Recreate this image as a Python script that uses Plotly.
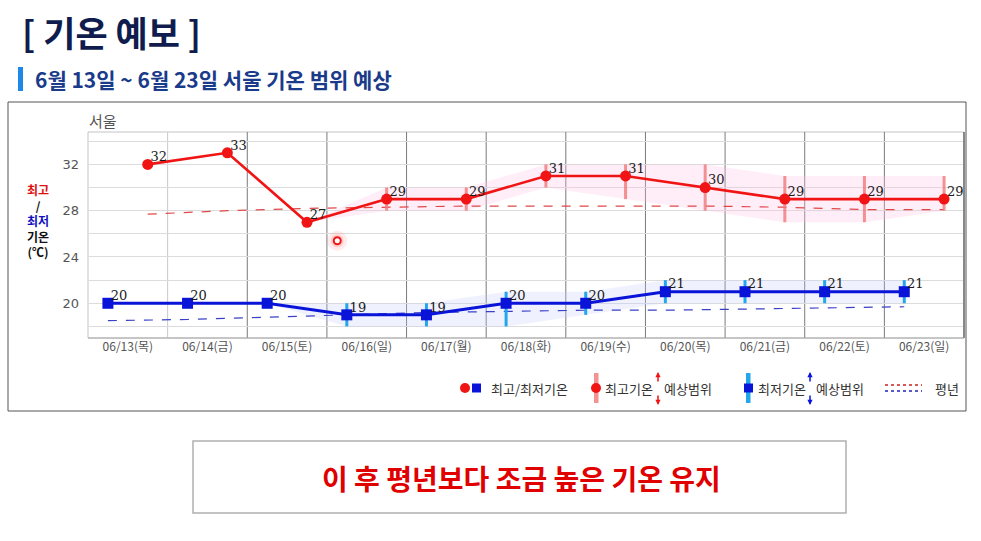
import plotly.graph_objects as go

# ---------------- data ----------------
dates = ["06/13(목)", "06/14(금)", "06/15(토)", "06/16(일)", "06/17(월)", "06/18(화)",
         "06/19(수)", "06/20(목)", "06/21(금)", "06/22(토)", "06/23(일)"]
max_temp = [32, 33, 27, 29, 29, 31, 31, 30, 29, 29, 29]
min_temp = [20, 20, 20, 19, 19, 20, 20, 21, 21, 21, 21]
# forecast ranges (None = no range shown); 06/15 is where the band starts
max_lo = [None, None, 27, 28, 28, 30, 29, 28, 27, 27, 28]
max_hi = [None, None, 27, 30, 30, 32, 32, 32, 31, 31, 31]
min_lo = [None, None, 20, 18, 18, 18, 19, 20, 20, 20, 20]
min_hi = [None, None, 20, 20, 20, 21, 21, 22, 22, 22, 22]
norm_max = [27.7, 28.0, 28.2, 28.3, 28.4, 28.4, 28.4, 28.4, 28.3, 28.1, 28.1]
norm_min = [18.5, 18.6, 18.8, 19.0, 19.2, 19.3, 19.4, 19.4, 19.5, 19.6, 19.7]
y_tick_vals = [20, 24, 28, 32]
hover_x = [3.13]   # highlighted cursor spot in the screenshot
hover_y = [25.4]

# ---------------- geometry helpers ----------------
W, H = 981, 541
L, R, T, B = 88, 964, 132, 338


def px(x):
    return (x - L) / (R - L)


def py(y):
    return (B - y) / (B - T)


n = len(dates)
x_hi = [i + 0.75 for i in range(n)]   # afternoon (max)
x_lo = [i + 0.25 for i in range(n)]   # morning (min)
x_mid = [i + 0.5 for i in range(n)]
LABEL_DX = 0.035

RED = "#f01414"
BLUE = "#0a14d8"
KFONT = "Noto Sans CJK KR"

fig = go.Figure()

# ranges bands
idx_max = [i for i in range(n) if max_lo[i] is not None]
idx_min = [i for i in range(n) if min_lo[i] is not None]

fig.add_trace(go.Scatter(x=[x_hi[i] for i in idx_max], y=[max_hi[i] for i in idx_max],
                         mode="lines", line=dict(width=0), hoverinfo="skip", showlegend=False))
fig.add_trace(go.Scatter(x=[x_hi[i] for i in idx_max], y=[max_lo[i] for i in idx_max],
                         mode="lines", line=dict(width=0), fill="tonexty",
                         fillcolor="rgba(255,190,230,0.28)", hoverinfo="skip", showlegend=False))
fig.add_trace(go.Scatter(x=[x_lo[i] for i in idx_min], y=[min_hi[i] for i in idx_min],
                         mode="lines", line=dict(width=0), hoverinfo="skip", showlegend=False))
fig.add_trace(go.Scatter(x=[x_lo[i] for i in idx_min], y=[min_lo[i] for i in idx_min],
                         mode="lines", line=dict(width=0), fill="tonexty",
                         fillcolor="rgba(195,200,255,0.26)", hoverinfo="skip", showlegend=False))

# normals
fig.add_trace(go.Scatter(x=x_hi, y=norm_max, mode="lines",
                         line=dict(color="#e04848", width=1.2, dash="dash"), showlegend=False))
fig.add_trace(go.Scatter(x=x_lo, y=norm_min, mode="lines",
                         line=dict(color="#3a40c8", width=1.2, dash="dash"), showlegend=False))

# range bars
rb = [i for i in idx_max if max_hi[i] != max_lo[i]]
fig.add_trace(go.Scatter(
    x=[x_hi[i] for i in rb], y=[max_temp[i] for i in rb], mode="markers",
    marker=dict(size=1, color="rgba(0,0,0,0)"),
    error_y=dict(type="data", symmetric=False,
                 array=[max_hi[i] - max_temp[i] for i in rb],
                 arrayminus=[max_temp[i] - max_lo[i] for i in rb],
                 color="rgba(240,120,120,0.8)", thickness=3, width=0),
    showlegend=False))
bb = [i for i in idx_min if min_hi[i] != min_lo[i]]
fig.add_trace(go.Scatter(
    x=[x_lo[i] for i in bb], y=[min_temp[i] for i in bb], mode="markers",
    marker=dict(size=1, color="rgba(0,0,0,0)"),
    error_y=dict(type="data", symmetric=False,
                 array=[min_hi[i] - min_temp[i] for i in bb],
                 arrayminus=[min_temp[i] - min_lo[i] for i in bb],
                 color="#22a6ec", thickness=3, width=0),
    showlegend=False))

# main series
fig.add_trace(go.Scatter(
    x=x_hi, y=max_temp, mode="lines+markers",
    line=dict(color=RED, width=2.6), marker=dict(symbol="circle", size=11, color=RED),
    showlegend=False))
fig.add_trace(go.Scatter(
    x=x_lo, y=min_temp, mode="lines+markers",
    line=dict(color=BLUE, width=3), marker=dict(symbol="square", size=11, color=BLUE),
    showlegend=False))

# value labels
LFONT = dict(family="DejaVu Serif", size=13, color="#1a1a1a")
fig.add_trace(go.Scatter(x=[v + LABEL_DX for v in x_hi], y=max_temp, mode="text",
                         text=[str(v) for v in max_temp], textposition="top right",
                         textfont=LFONT, cliponaxis=False, showlegend=False))
fig.add_trace(go.Scatter(x=[v + LABEL_DX for v in x_lo], y=min_temp, mode="text",
                         text=[str(v) for v in min_temp], textposition="top right",
                         textfont=LFONT, cliponaxis=False, showlegend=False))

# highlighted cursor spot
fig.add_trace(go.Scatter(x=hover_x, y=hover_y, mode="markers",
                         marker=dict(size=20, color="rgba(255,60,60,0.10)"), showlegend=False))
fig.add_trace(go.Scatter(x=hover_x, y=hover_y, mode="markers",
                         marker=dict(size=13, color="rgba(255,60,60,0.16)"), showlegend=False))
fig.add_trace(go.Scatter(x=hover_x, y=hover_y, mode="markers",
                         marker=dict(size=7, color="rgba(255,255,255,0.9)",
                                     line=dict(color=RED, width=2)), showlegend=False))

shapes = []
# outer chart box
shapes.append(dict(type="rect", xref="paper", yref="paper", x0=px(8), x1=px(966),
                   y0=py(411), y1=py(102), line=dict(color="#555", width=1), layer="below"))
# plot frame
shapes.append(dict(type="rect", xref="paper", yref="paper", x0=0, x1=1, y0=0, y1=1,
                   line=dict(color="#c4c4c4", width=1), layer="below"))
shapes.append(dict(type="line", xref="paper", yref="paper", x0=1, x1=1, y0=0, y1=1,
                   line=dict(color="#888", width=2)))
shapes.append(dict(type="line", xref="paper", yref="paper", x0=0, x1=1, y0=0, y1=0,
                   line=dict(color="#aaa", width=1)))
# day separators
for d in range(1, n):
    shapes.append(dict(type="line", xref="x", yref="paper", x0=d, x1=d, y0=0, y1=1,
                       line=dict(color="#c8c8c8" if d == 1 else "#7a7a7a", width=1),
                       layer="below"))
# subtitle accent bar
shapes.append(dict(type="rect", xref="paper", yref="paper", x0=px(18), x1=px(23),
                   y0=py(91), y1=py(67), line=dict(width=0), fillcolor="#1e88e8"))
# message box
shapes.append(dict(type="rect", xref="paper", yref="paper", x0=px(193), x1=px(846),
                   y0=py(513), y1=py(441), line=dict(color="#b0b0b0", width=1.5)))

# ---- legend (custom) ----
LY = 388
shapes.append(dict(type="circle", xref="paper", yref="paper", x0=px(460), x1=px(470),
                   y0=py(LY + 5), y1=py(LY - 5), fillcolor=RED, line=dict(width=0)))
shapes.append(dict(type="rect", xref="paper", yref="paper", x0=px(472), x1=px(481),
                   y0=py(LY + 4.5), y1=py(LY - 4.5), fillcolor=BLUE, line=dict(width=0)))
shapes.append(dict(type="rect", xref="paper", yref="paper", x0=px(594), x1=px(598.5),
                   y0=py(403), y1=py(373), fillcolor="rgba(240,120,120,0.8)", line=dict(width=0)))
shapes.append(dict(type="circle", xref="paper", yref="paper", x0=px(591), x1=px(601),
                   y0=py(LY + 5), y1=py(LY - 5), fillcolor=RED, line=dict(width=0)))
shapes.append(dict(type="rect", xref="paper", yref="paper", x0=px(746), x1=px(750.5),
                   y0=py(403), y1=py(373), fillcolor="#22a6ec", line=dict(width=0)))
shapes.append(dict(type="rect", xref="paper", yref="paper", x0=px(744), x1=px(753),
                   y0=py(LY + 4.5), y1=py(LY - 4.5), fillcolor=BLUE, line=dict(width=0)))
shapes.append(dict(type="line", xref="paper", yref="paper", x0=px(885), x1=px(922),
                   y0=py(385), y1=py(385), line=dict(color="#d02020", width=1.6, dash="dot")))
shapes.append(dict(type="line", xref="paper", yref="paper", x0=px(885), x1=px(922),
                   y0=py(391), y1=py(391), line=dict(color="#2020c0", width=1.6, dash="dot")))

annotations = []


def ann(x, y, text, size, color, bold=False, xanchor="left", family=KFONT):
    annotations.append(dict(xref="paper", yref="paper", x=px(x), y=py(y), text=f"<b>{text}</b>" if bold else text,
                            showarrow=False, xanchor=xanchor, yanchor="middle",
                            font=dict(family=family, size=size, color=color)))


def arrow(x, y_head, dy, color):
    annotations.append(dict(xref="paper", yref="paper", x=px(x), y=py(y_head), text="",
                            showarrow=True, ax=0, ay=dy, arrowhead=2, arrowsize=0.7,
                            arrowwidth=1.5, arrowcolor=color, standoff=0, startstandoff=0))


ann(20, 31, "[ 기온 예보 ]", 35, "#0f1c4d", bold=True)
ann(33, 79, "6월 13일 ~ 6월 23일 서울 기온 범위 예상", 21, "#1a3a8a", bold=True)
ann(87, 120, "서울", 15, "#555")
annotations.append(dict(xref="paper", yref="paper", x=px(38), y=py(220), showarrow=False,
                        xanchor="center", yanchor="middle", align="center",
                        text="<b><span style='color:#e01010'>최고</span><br>/<br>"
                             "<span style='color:#1010c0'>최저</span><br>기온<br>(℃)</b>",
                        font=dict(family=KFONT, size=12, color="#111")))
ann(521, 478, "이 후 평년보다 조금 높은 기온 유지", 28, "#e00000", bold=True, xanchor="center")

ann(489, LY, "최고/최저기온", 13, "#333")
ann(603, LY, "최고기온", 13, "#333")
arrow(658, 372, 11, RED)
arrow(658, 405, -11, RED)
ann(662, LY, "예상범위", 13, "#333")
ann(756, LY, "최저기온", 13, "#333")
arrow(810, 372, 11, BLUE)
arrow(810, 405, -11, BLUE)
ann(814, LY, "예상범위", 13, "#333")
ann(933, LY, "평년", 13, "#333")

fig.update_layout(
    width=W, height=H,
    margin=dict(l=L, r=W - R, t=T, b=H - B, pad=0),
    paper_bgcolor="white", plot_bgcolor="white",
    shapes=shapes, annotations=annotations, showlegend=False,
    xaxis=dict(range=[0, n], tickvals=x_mid, ticktext=dates, showgrid=False, zeroline=False,
               ticks="", tickfont=dict(family=KFONT, size=12, color="#555"), showline=False),
    yaxis=dict(range=[17, 34.8], tickvals=y_tick_vals, showgrid=True, gridcolor="#dcdcdc",
               minor=dict(dtick=2, tick0=0, showgrid=True, gridcolor="#dcdcdc"),
               zeroline=False, ticks="", ticklabelstandoff=8,
               tickfont=dict(family="DejaVu Sans", size=13, color="#555"), showline=False),
)

fig.write_html("out.html", config={"displayModeBar": False},
               post_script="document.body.style.margin='0px';")
